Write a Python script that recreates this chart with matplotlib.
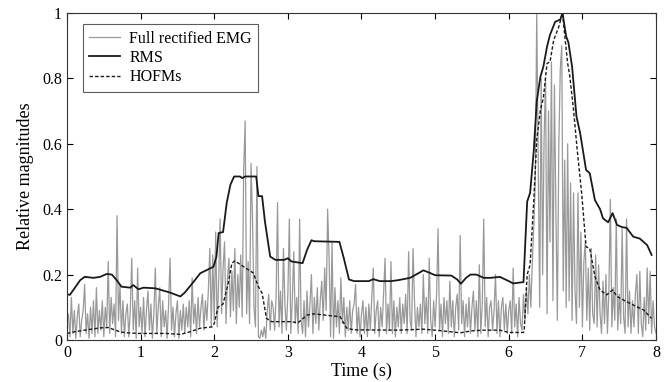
import numpy as np
import matplotlib
matplotlib.use("Agg")
import matplotlib.pyplot as plt

plt.rcParams['font.family'] = ['Liberation Serif', 'DejaVu Serif']

# full rectified EMG, one value every 0.02 s (0 .. 8 s)
emg = [
    0.05, 0.08, 0.01, 0.13, 0.02, 0.09, 0.005, 0.07, 0.11, 0.01, 0.06, 0.09, 0.17, 0.02, 0.08, 0.005, 0.10, 0.02, 0.12, 0.01,
    0.16, 0.02, 0.09, 0.03, 0.12, 0.01, 0.10, 0.04, 0.24, 0.02, 0.13, 0.05, 0.11, 0.01, 0.38, 0.06, 0.17, 0.02, 0.12, 0.01,
    0.08, 0.11, 0.01, 0.09, 0.25, 0.03, 0.12, 0.005, 0.22, 0.04, 0.10, 0.02, 0.13, 0.01, 0.09, 0.15, 0.03, 0.11, 0.005, 0.08,
    0.22, 0.02, 0.10, 0.16, 0.01, 0.12, 0.04, 0.09, 0.005, 0.11, 0.25, 0.03, 0.10, 0.01, 0.08, 0.12, 0.005, 0.09, 0.03, 0.11,
    0.02, 0.10, 0.04, 0.12, 0.01, 0.19, 0.05, 0.11, 0.02, 0.13, 0.04, 0.10, 0.14, 0.03, 0.12, 0.06, 0.15, 0.28, 0.04, 0.26,
    0.06, 0.33, 0.04, 0.18, 0.37, 0.08, 0.22, 0.30, 0.05, 0.19, 0.25, 0.07, 0.21, 0.09, 0.28, 0.05, 0.20, 0.10, 0.26, 0.07,
    0.52, 0.67, 0.08, 0.24, 0.05, 0.54, 0.37, 0.10, 0.04, 0.53, 0.01, 0.005, 0.03, 0.01, 0.04, 0.005, 0.09, 0.14, 0.03, 0.12,
    0.10, 0.03, 0.13, 0.42, 0.04, 0.15, 0.02, 0.28, 0.11, 0.03, 0.14, 0.37, 0.02, 0.12, 0.27, 0.05, 0.13, 0.02, 0.37, 0.06,
    0.02, 0.12, 0.01, 0.15, 0.04, 0.11, 0.20, 0.02, 0.13, 0.05, 0.16, 0.03, 0.12, 0.18, 0.06, 0.22, 0.09, 0.40, 0.25, 0.01,
    0.30, 0.005, 0.16, 0.04, 0.12, 0.02, 0.19, 0.05, 0.13, 0.01, 0.10, 0.03, 0.12, 0.02, 0.09, 0.11, 0.17, 0.02, 0.10, 0.01,
    0.08, 0.12, 0.02, 0.10, 0.01, 0.11, 0.03, 0.13, 0.22, 0.02, 0.09, 0.12, 0.01, 0.10, 0.04, 0.14, 0.25, 0.02, 0.11, 0.03,
    0.24, 0.02, 0.12, 0.01, 0.10, 0.04, 0.13, 0.02, 0.11, 0.05, 0.14, 0.02, 0.27, 0.06, 0.03, 0.28, 0.12, 0.01, 0.10, 0.04,
    0.11, 0.02, 0.20, 0.05, 0.13, 0.02, 0.25, 0.06, 0.01, 0.12, 0.04, 0.14, 0.34, 0.03, 0.11, 0.01, 0.13, 0.05, 0.12, 0.02,
    0.18, 0.04, 0.12, 0.01, 0.10, 0.14, 0.03, 0.32, 0.05, 0.12, 0.01, 0.11, 0.04, 0.13, 0.02, 0.10, 0.15, 0.03, 0.12, 0.01,
    0.23, 0.02, 0.11, 0.37, 0.04, 0.13, 0.01, 0.10, 0.12, 0.03, 0.09, 0.20, 0.02, 0.12, 0.01, 0.10, 0.13, 0.03, 0.11, 0.02,
    0.09, 0.12, 0.02, 0.22, 0.04, 0.11, 0.01, 0.13, 0.05, 0.03, 0.14, 0.06, 0.16, 0.08, 0.20, 0.10, 0.24, 0.35, 0.48, 1.00,
    0.55, 0.10, 0.80, 0.20, 0.62, 0.80, 0.08, 0.70, 0.30, 0.85, 0.12, 0.78, 0.40, 0.06, 0.60, 0.83, 0.90, 0.15, 0.55, 0.10,
    0.60, 0.12, 0.48, 0.06, 0.45, 0.15, 0.05, 0.45, 0.10, 0.33, 0.04, 0.24, 0.30, 0.06, 0.22, 0.03, 0.28, 0.08, 0.05, 0.26,
    0.04, 0.23, 0.08, 0.02, 0.18, 0.05, 0.20, 0.02, 0.15, 0.43, 0.04, 0.16, 0.06, 0.37, 0.03, 0.14, 0.05, 0.34, 0.07, 0.02,
    0.37, 0.04, 0.15, 0.02, 0.12, 0.04, 0.14, 0.20, 0.02, 0.21, 0.05, 0.01, 0.13, 0.03, 0.22, 0.05, 0.21, 0.02, 0.12, 0.04,
    0.02,
]
emg_t = np.arange(len(emg)) * 0.02

rms_t = [0, 0.04, 0.18, 0.24, 0.36, 0.45, 0.54, 0.61, 0.675, 0.74, 0.86, 0.9, 0.97, 1.04,
         1.2, 1.4, 1.54, 1.6, 1.72, 1.81, 1.9, 1.99, 2.03, 2.06, 2.12, 2.17, 2.22, 2.27,
         2.35, 2.38, 2.42, 2.57, 2.6, 2.65, 2.69, 2.76, 2.83, 2.95, 3.0, 3.05, 3.2, 3.26,
         3.32, 3.36, 3.7, 3.76, 3.83, 3.9, 4.1, 4.16, 4.25, 4.4, 4.5, 4.66, 4.78, 4.84,
         4.93, 5.0, 5.22, 5.3, 5.35, 5.42, 5.48, 5.56, 5.66, 5.75, 5.88, 6.0, 6.06, 6.2,
         6.25, 6.29, 6.34, 6.38, 6.43, 6.47, 6.52, 6.56, 6.63, 6.7, 6.73, 6.78, 6.81,
         6.86, 6.92, 6.97, 7.05, 7.1, 7.17, 7.24, 7.28, 7.35, 7.41, 7.47, 7.54, 7.6,
         7.69, 7.78, 7.88, 7.94]
rms = [0.14, 0.138, 0.183, 0.193, 0.19, 0.193, 0.202, 0.2, 0.183, 0.163, 0.16, 0.168, 0.155, 0.16,
       0.158, 0.145, 0.133, 0.145, 0.178, 0.204, 0.214, 0.224, 0.255, 0.327, 0.33, 0.42, 0.475, 0.5,
       0.5, 0.495, 0.5, 0.5, 0.44, 0.44, 0.36, 0.255, 0.245, 0.245, 0.25, 0.24, 0.235, 0.275,
       0.305, 0.302, 0.3, 0.25, 0.185, 0.18, 0.18, 0.186, 0.18, 0.18, 0.183, 0.19, 0.205, 0.213,
       0.205, 0.198, 0.197, 0.185, 0.172, 0.19, 0.2, 0.2, 0.19, 0.19, 0.193, 0.18, 0.173, 0.177,
       0.423, 0.45, 0.58, 0.73, 0.805, 0.836, 0.897, 0.933, 0.973, 0.98, 1.0, 0.928, 0.91,
       0.836, 0.683, 0.632, 0.52, 0.51, 0.428, 0.4, 0.372, 0.36, 0.388, 0.352, 0.345, 0.343,
       0.316, 0.31, 0.29, 0.26]

hofm_t = [0, 0.1, 0.24, 0.45, 0.56, 0.72, 0.81, 0.97, 1.35, 1.54, 1.67, 1.81, 1.97, 2.0,
          2.05, 2.12, 2.19, 2.24, 2.28, 2.4, 2.53, 2.6, 2.65, 2.71, 2.78, 3.03, 3.14, 3.26,
          3.35, 3.71, 3.8, 3.9, 4.5, 4.84, 5.0, 5.34, 5.5, 5.66, 5.88, 6.0, 6.2, 6.21,
          6.25, 6.29, 6.34, 6.38, 6.43, 6.47, 6.52, 6.56, 6.61, 6.68, 6.73, 6.77, 6.8,
          6.83, 6.88, 6.93, 6.99, 7.05, 7.1, 7.17, 7.24, 7.33, 7.41, 7.47, 7.56, 7.69,
          7.83, 7.94]
hofm = [0.02, 0.025, 0.03, 0.037, 0.038, 0.025, 0.022, 0.02, 0.02, 0.017, 0.025, 0.036, 0.04, 0.05,
        0.1, 0.11, 0.173, 0.235, 0.242, 0.224, 0.205, 0.163, 0.143, 0.066, 0.056, 0.056, 0.053, 0.076,
        0.08, 0.071, 0.036, 0.031, 0.03, 0.033, 0.03, 0.022, 0.028, 0.03, 0.03, 0.023, 0.023, 0.03,
        0.2, 0.23, 0.428, 0.612, 0.703, 0.74, 0.846, 0.85, 0.917, 0.958, 1.0, 0.91, 0.846,
        0.805, 0.703, 0.58, 0.449, 0.285, 0.28, 0.194, 0.153, 0.138, 0.153, 0.133, 0.122, 0.107,
        0.092, 0.066]

fig = plt.figure(figsize=(6.69, 3.82), dpi=100)
ax = fig.add_axes([0.1001, 0.11, 0.8805, 0.856])

ax.plot(emg_t, emg, color='#999999', lw=0.9, label='Full rectified EMG')
ax.plot(rms_t, rms, color='#1a1a1a', lw=1.3, label='RMS')
ax.plot(hofm_t, hofm, color='#1a1a1a', lw=1.0, ls=(0, (2.5, 1.5)), label='HOFMs')

ax.set_xlim(0, 8)
ax.set_ylim(0, 1)
ax.set_xticks(range(9))
ax.set_yticks([0, 0.2, 0.4, 0.6, 0.8, 1])
ax.set_yticklabels(['0', '0.2', '0.4', '0.6', '0.8', '1'])
ax.tick_params(direction='in', top=True, right=True, length=4, labelsize=11.5, width=0.8)
for s in ax.spines.values():
    s.set_linewidth(0.8)
    s.set_color('#333333')

ax.set_xlabel('Time (s)', fontsize=13, labelpad=1)
ax.set_ylabel('Relative magnitudes', fontsize=13, labelpad=6)

leg = ax.legend(loc='upper left', bbox_to_anchor=(0.027, 0.965), fontsize=11.5,
                frameon=True, fancybox=False, handlelength=1.9, handletextpad=0.6,
                borderpad=0.4, labelspacing=0.2, borderaxespad=0)
leg.get_frame().set_edgecolor('#333333')
leg.get_frame().set_linewidth(0.8)

fig.savefig('out.png', dpi=100)
